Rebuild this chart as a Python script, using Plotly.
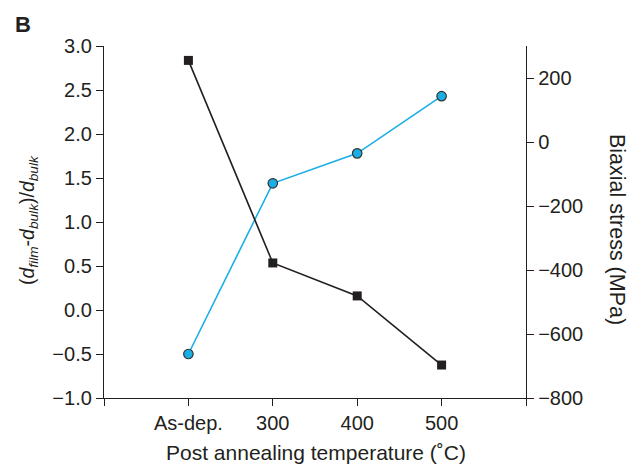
import plotly.graph_objects as go

categories = ["As-dep.", "300", "400", "500"]
strain = [-0.5, 1.44, 1.78, 2.43]          # (d_film-d_bulk)/d_bulk, left axis
stress = [255, -378, -481, -697]          # Biaxial stress (MPa), right axis
x_pos = [0, 1, 2, 3]

ink = "#231f20"
blue = "#1aaee5"
font = "Liberation Sans, Arial, Helvetica, sans-serif"

W, H = 628, 466
L, R, T, B = 104, 102, 46, 68
pw, ph = W - L - R, H - T - B

def px(x):
    return (x - L) / pw

def py(y):
    return (H - B - y) / ph

fig = go.Figure()
fig.add_trace(go.Scatter(
    x=x_pos, y=strain, mode="lines+markers", yaxis="y",
    line=dict(color=blue, width=1.6),
    marker=dict(symbol="circle", size=9.5, color=blue, line=dict(color="#333333", width=1.2)),
    showlegend=False))
fig.add_trace(go.Scatter(
    x=x_pos, y=stress, mode="lines+markers", yaxis="y2",
    line=dict(color=ink, width=1.6),
    marker=dict(symbol="square", size=9, color=ink),
    showlegend=False))

axis_common = dict(showline=True, linecolor=ink, linewidth=1.3, ticks="outside",
                   ticklen=7, tickcolor=ink, tickwidth=1.2, showgrid=False,
                   zeroline=False, automargin=False, tickfont=dict(size=20, color=ink))

fig.update_layout(
    width=W, height=H,
    margin=dict(l=L, r=R, t=T, b=B),
    paper_bgcolor="white", plot_bgcolor="white",
    font=dict(family=font, size=20, color=ink),
    xaxis=dict(range=[-1, 4], tickmode="array", tickvals=[-1, 0, 1, 2, 3, 4],
               ticktext=["", *categories, ""], **axis_common),
    yaxis=dict(range=[-1, 3], tickmode="array", tickvals=[-1, -0.5, 0, 0.5, 1, 1.5, 2, 2.5, 3],
               tickformat=".1f", **axis_common),
    yaxis2=dict(range=[-800, 300], overlaying="y", side="right",
                tickmode="array", tickvals=[-800, -600, -400, -200, 0, 200], **axis_common),
    annotations=[
        dict(text="<b>B</b>", x=px(23), y=py(24), xref="paper", yref="paper",
             xanchor="center", yanchor="middle", showarrow=False,
             font=dict(size=22, color=ink)),
        dict(text="Post annealing temperature (˚C)", x=px(316), y=py(452),
             xref="paper", yref="paper", xanchor="center", yanchor="middle",
             showarrow=False, font=dict(size=21, color=ink)),
        dict(text="(<i>d</i><sub><i>film</i></sub>-<i>d</i><sub><i>bulk</i></sub>)/<i>d</i><sub><i>bulk</i></sub>",
             x=px(29), y=py(220), xref="paper", yref="paper", textangle=-90,
             xanchor="center", yanchor="middle", showarrow=False,
             font=dict(size=19.5, color=ink)),
        dict(text="Biaxial stress (MPa)", x=px(617), y=py(229), xref="paper", yref="paper",
             textangle=90, xanchor="center", yanchor="middle", showarrow=False,
             font=dict(size=21.5, color=ink)),
    ],
)

fig.write_html("out.html", config={"displayModeBar": False},
               post_script="document.body.style.margin='0';document.body.style.padding='0';")
